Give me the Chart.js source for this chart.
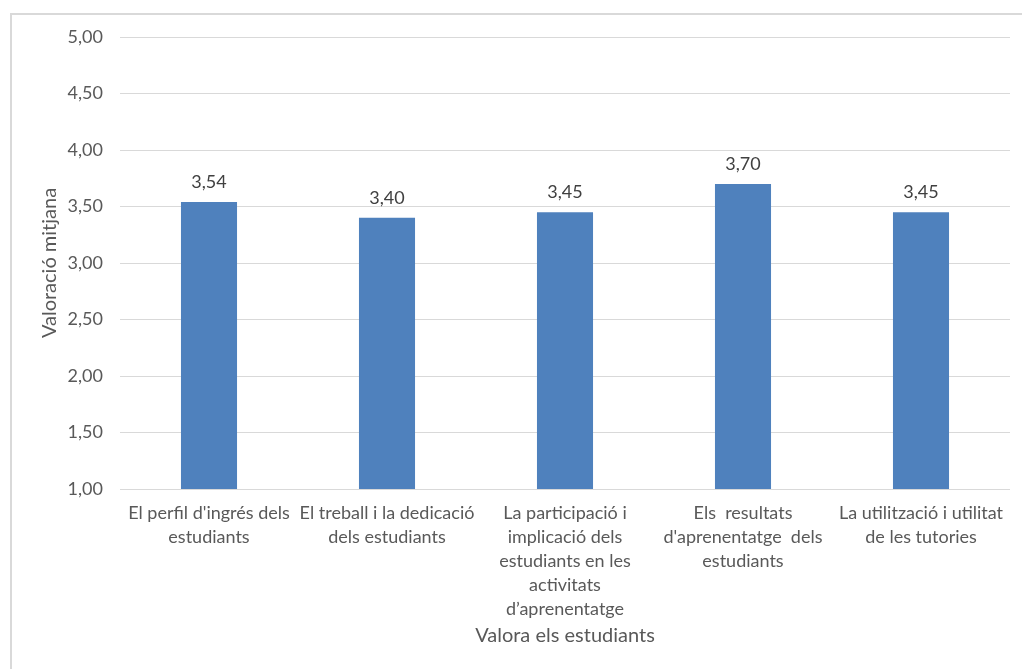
<!DOCTYPE html>
<html>
<head>
<meta charset="utf-8">
<script src="https://cdn.jsdelivr.net/npm/chart.js@4"></script>
<style>
  html, body { margin: 0; padding: 0; background: #fff; overflow: hidden; }
  #frame { position: absolute; left: 10px; top: 13px; width: 1100px; height: 700px;
           border-left: 2px solid #d9d9d9; border-top: 2px solid #d9d9d9; }
  #wrap { position: absolute; left: 0; top: 0; width: 1022px; height: 669px; }
</style>
</head>
<body>
<div id="frame"></div>
<div id="wrap"><canvas id="chart"></canvas></div>
<script>
// categories (multi-line labels as in the original)
var categories = [
	["El perfil d'ingrés dels", "estudiants"],
	["El treball i la dedicació", "dels estudiants"],
	["La participació i", "implicació dels", "estudiants en les", "activitats", "d\u2019aprenentatge"],
	["Els  resultats", "d'aprenentatge  dels", "estudiants"],
	["La utilització i utilitat", "de les tutories"]
];
var valors = [3.54, 3.40, 3.45, 3.70, 3.45];
var yMin = 1, yMax = 5, yStep = 0.5;

function coma(v) { return Number(v).toFixed(2).replace('.', ','); }

// labels above each bar
var valueLabels = {
	id: 'valueLabels',
	afterDatasetsDraw: function (chart) {
		var ctx = chart.ctx;
		var meta = chart.getDatasetMeta(0);
		ctx.save();
		ctx.font = '18px Lato';
		ctx.fillStyle = '#404040';
		ctx.textAlign = 'center';
		ctx.textBaseline = 'middle';
		meta.data.forEach(function (bar, i) {
			ctx.fillText(coma(valors[i]), bar.x, bar.y - 20);
		});
		ctx.restore();
	}
};

new Chart(document.getElementById('chart'), {
	type: 'bar',
	data: {
		labels: categories,
		datasets: [{
			label: 'Valoració mitjana',
			data: valors,
			backgroundColor: '#4f81bd',
			borderWidth: 0,
			barPercentage: 0.315,
			categoryPercentage: 1
		}]
	},
	options: {
		responsive: true,
		maintainAspectRatio: false,
		animation: false,
		layout: { padding: { left: 12, right: 12, top: 37, bottom: 0 } },
		plugins: {
			legend: { display: false },
			tooltip: { enabled: false }
		},
		scales: {
			x: {
				grid: { display: false, drawTicks: false },
				border: { display: false },
				ticks: {
					color: '#595959',
					font: { family: 'Lato', size: 18, lineHeight: 1.333 },
					padding: 12,
					maxRotation: 0,
					autoSkip: false
				},
				title: {
					display: true,
					text: 'Valora els estudiants',
					color: '#595959',
					font: { family: 'Lato', size: 20 },
					padding: { top: 0, bottom: 21 }
				},
				afterFit: function (scale) { scale.height = 180; }
			},
			y: {
				min: yMin,
				max: yMax,
				grid: { color: '#d9d9d9', lineWidth: 1, drawTicks: false },
				border: { display: false },
				ticks: {
					stepSize: yStep,
					color: '#595959',
					font: { family: 'Lato', size: 18 },
					padding: 17,
					callback: function (v) { return coma(v); }
				},
				title: {
					display: true,
					text: 'Valoració mitjana',
					color: '#595959',
					font: { family: 'Lato', size: 20 },
					padding: { top: 26, bottom: 0 }
				},
				afterFit: function (scale) { scale.width = 108; }
			}
		}
	},
	plugins: [valueLabels]
});
</script>
</body>
</html>
